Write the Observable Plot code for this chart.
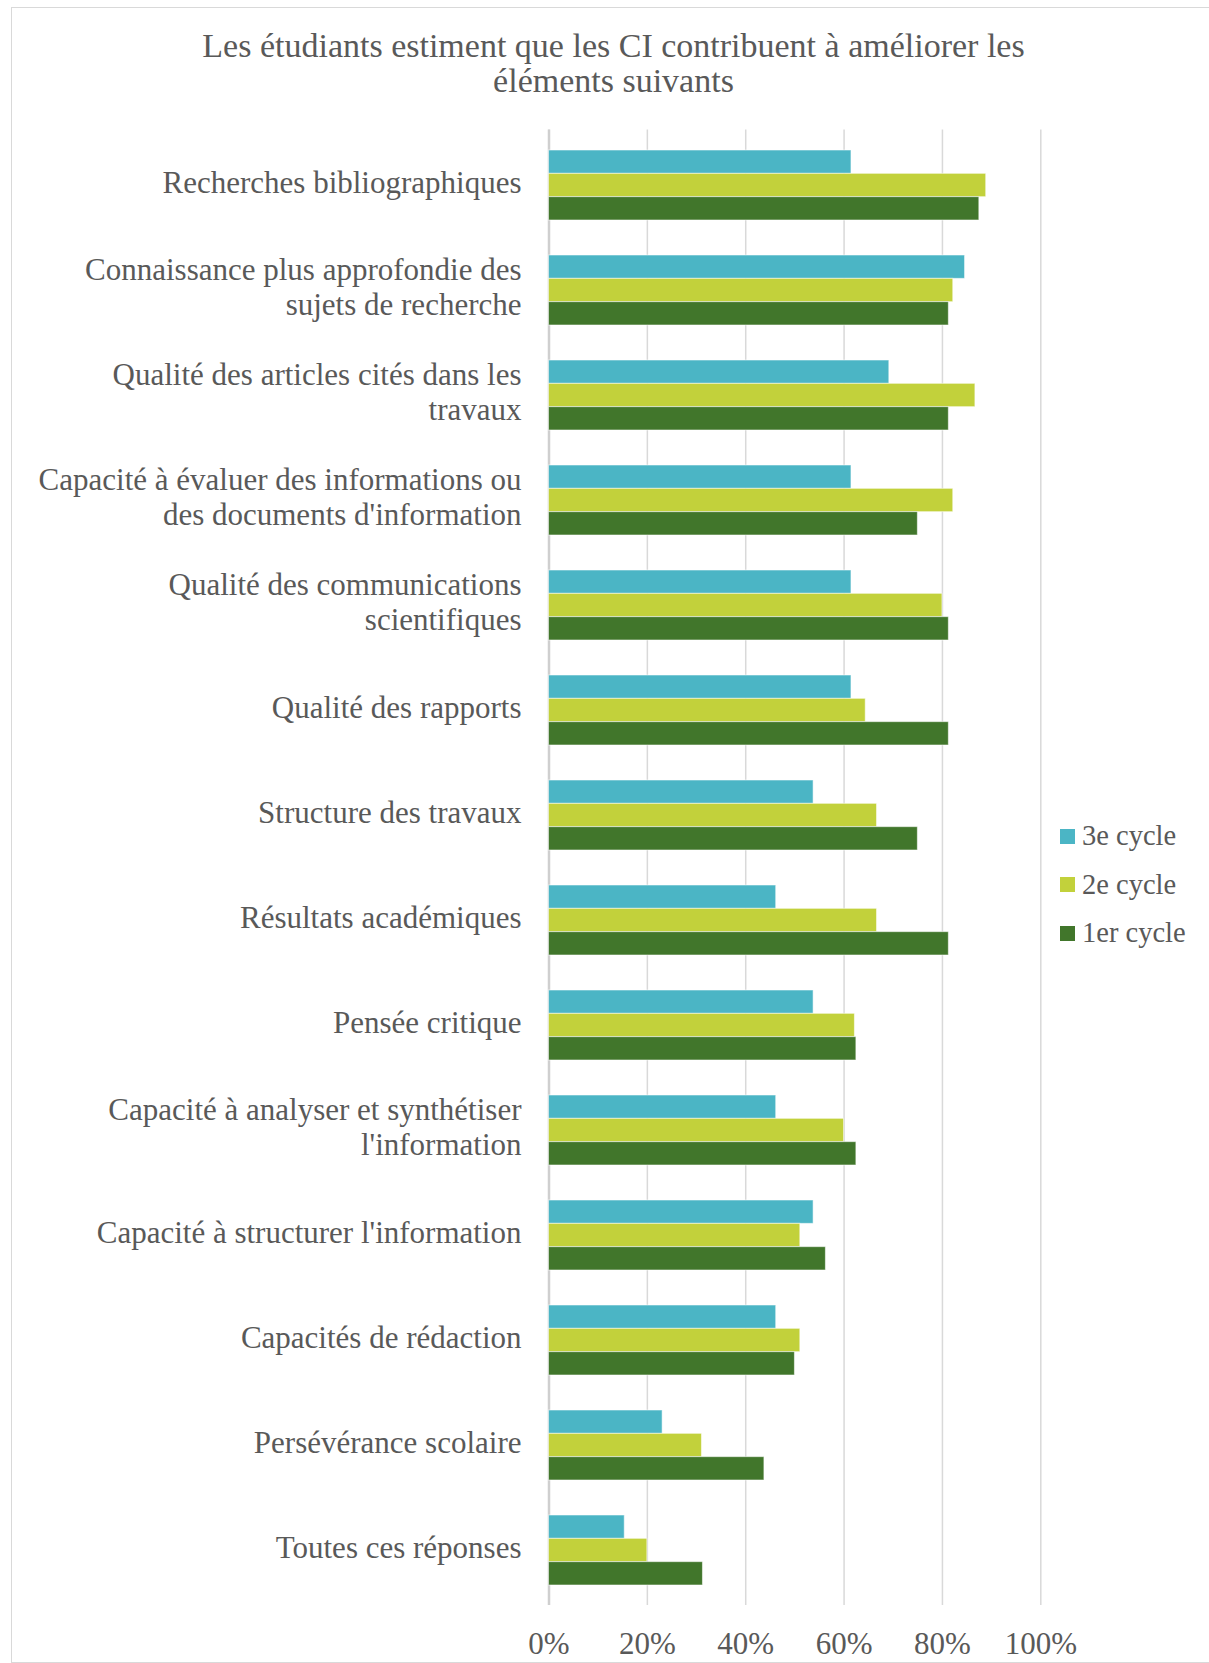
<!DOCTYPE html>
<html>
<head>
<meta charset="utf-8">
<script src="https://cdn.jsdelivr.net/npm/d3@7"></script>
<script src="https://cdn.jsdelivr.net/npm/@observablehq/plot@0.6"></script>
<style>
  html, body { margin: 0; padding: 0; background: #fff; overflow: hidden; }
  #wrap { position: relative; width: 1209px; height: 1663px; overflow: hidden; background: #fff; }
  #title { height: 118px; box-sizing: border-box; padding-top: 28px; width: 1227px; text-align: center;
           font-family: "Liberation Serif", serif; font-size: 34px; line-height: 35px; color: #595959; white-space: nowrap; }
  #chart svg { display: block; background: transparent; }
  #border { position: absolute; left: 11px; top: 7px; width: 1400px; height: 1656px; box-sizing: border-box;
            border: 1.5px solid #d9d9d9; pointer-events: none; }
  #legend { position: absolute; left: 1060px; top: 0; font-family: "Liberation Serif", serif; font-size: 28.5px; color: #595959; }
  .item { position: absolute; left: 0; height: 30px; display: flex; align-items: center; white-space: nowrap; }
  .sw { width: 15px; height: 15px; margin-right: 7px; flex: none; }
</style>
</head>
<body>
<div id="wrap">
  <div id="title">Les étudiants estiment que les CI contribuent à améliorer les<br>éléments suivants</div>
  <div id="chart"></div>
  <div id="legend"></div>
  <div id="border"></div>
</div>
<script>
const categories = [
  "Recherches bibliographiques",
  "Connaissance plus approfondie des\nsujets de recherche",
  "Qualité des articles cités dans les\ntravaux",
  "Capacité à évaluer des informations ou\ndes documents d'information",
  "Qualité des communications\nscientifiques",
  "Qualité des rapports",
  "Structure des travaux",
  "Résultats académiques",
  "Pensée critique",
  "Capacité à analyser et synthétiser\nl'information",
  "Capacité à structurer l'information",
  "Capacités de rédaction",
  "Persévérance scolaire",
  "Toutes ces réponses"
];
const series = ["3e cycle", "2e cycle", "1er cycle"];
const cycle3 = [61.5, 84.6, 69.2, 61.5, 61.5, 61.5, 53.8, 46.2, 53.8, 46.2, 53.8, 46.2, 23.1, 15.4];
const cycle2 = [88.9, 82.2, 86.7, 82.2, 80.0, 64.4, 66.7, 66.7, 62.2, 60.0, 51.1, 51.1, 31.1, 20.0];
const cycle1 = [87.5, 81.3, 81.3, 75.0, 81.3, 81.3, 75.0, 81.3, 62.5, 62.5, 56.3, 50.0, 43.8, 31.3];
const xTicks = [0, 20, 40, 60, 80, 100];
const colors = ["#4BB5C5", "#C2D13B", "#41762B"];

const valuesBySeries = [cycle3, cycle2, cycle1];
const rows = [];
series.forEach((s, si) => categories.forEach((c, ci) => rows.push({category: c, series: s, value: valuesBySeries[si][ci]})));

const W = 1209, H = 1545;
const mT = 11.6, mB = 58, mL = 548.5, mR = 168.7;
const pInner = 0.336, pOuter = 0.168;
const plotH = H - mT - mB;
const step = plotH / (categories.length - pInner + 2 * pOuter);
const bw = step * (1 - pInner);
const barH = bw / series.length;

const barMarks = series.map((s, si) => Plot.barX(rows.filter(r => r.series === s), {
  y: "category", x: "value", fill: colors[si],
  stroke: "#ffffff", strokeOpacity: 0.55, strokeWidth: 1,
  insetTop: si * barH, insetBottom: (series.length - 1 - si) * barH
}));

const chart = Plot.plot({
  width: W, height: H,
  marginTop: mT, marginBottom: mB, marginLeft: mL, marginRight: mR,
  style: {color: "#595959", fontFamily: "Liberation Serif, serif", background: "transparent", overflow: "visible"},
  x: {domain: [0, 100], axis: null, label: null},
  y: {domain: categories, paddingInner: pInner, paddingOuter: pOuter, axis: null, label: null},
  marks: [
    Plot.gridX(xTicks, {stroke: "#d9d9d9", strokeOpacity: 1, strokeWidth: 1.5}),
    Plot.ruleX([0], {stroke: "#cfcfcf", strokeWidth: 2.5}),
    ...barMarks,
    Plot.axisX({ticks: xTicks, tickFormat: d => d + "%", tickSize: 0, tickPadding: 26, fontSize: 31, fill: "#595959", label: null}),
    Plot.axisY({tickSize: 0, tickPadding: 27.5, fontSize: 31, lineHeight: 1.13, fill: "#595959", dy: -4, label: null})
  ]
});
document.getElementById("chart").appendChild(chart);

const legend = document.getElementById("legend");
const legendCenters = [836, 884.5, 933];
series.forEach((s, i) => {
  const it = document.createElement("div");
  it.className = "item";
  it.style.top = (legendCenters[i] - 15) + "px";
  const sw = document.createElement("span");
  sw.className = "sw";
  sw.style.background = colors[i];
  const tx = document.createElement("span");
  tx.textContent = s;
  it.appendChild(sw); it.appendChild(tx);
  legend.appendChild(it);
});
</script>
</body>
</html>
